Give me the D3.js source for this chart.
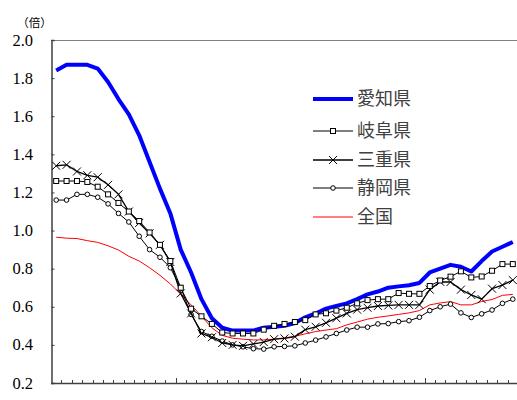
<!DOCTYPE html>
<html>
<head>
<meta charset="utf-8">
<script src="https://cdn.jsdelivr.net/npm/d3@7"></script>
<style>
  html, body { margin: 0; padding: 0; background: #fff; }
  svg { display: block; }
  .ytick { font-family: "Liberation Serif", "Times New Roman", serif; }
</style>
</head>
<body>
<svg id="chart" width="517" height="400"></svg>
<script>
// Monthly periods (45 months); long ticks mark the start of each new year
const months = [
  "1","2","3","4","5","6","7","8","9","10","11","12",
  "1","2","3","4","5","6","7","8","9","10","11","12",
  "1","2","3","4","5","6","7","8","9","10","11","12",
  "1","2","3","4","5","6","7","8","9"
];

const yTicks = [0.2, 0.4, 0.6, 0.8, 1.0, 1.2, 1.4, 1.6, 1.8, 2.0];

// 有効求人倍率（倍）
const aichi = [
  1.84, 1.87, 1.87, 1.87, 1.85, 1.78, 1.69, 1.61, 1.50, 1.36, 1.22, 1.09,
  0.90, 0.78, 0.64, 0.54, 0.49, 0.475, 0.475, 0.475, 0.49, 0.495, 0.50, 0.515,
  0.545, 0.565, 0.59, 0.605, 0.618, 0.64, 0.665, 0.68, 0.70, 0.707, 0.713, 0.725,
  0.78, 0.80, 0.82, 0.81, 0.785, 0.84, 0.89, 0.915, 0.94
];
const gifu = [
  1.26, 1.26, 1.26, 1.255, 1.23, 1.19, 1.145, 1.10, 1.05, 0.99, 0.925, 0.84,
  0.70, 0.59, 0.55, 0.51, 0.465, 0.46, 0.46, 0.46, 0.48, 0.50, 0.51, 0.52,
  0.53, 0.56, 0.566, 0.58, 0.595, 0.618, 0.635, 0.64, 0.64, 0.672, 0.668, 0.668,
  0.709, 0.738, 0.758, 0.786, 0.754, 0.759, 0.789, 0.824, 0.824
];
const mie = [
  1.34, 1.345, 1.31, 1.29, 1.28, 1.24, 1.19, 1.10, 1.04, 0.985, 0.925, 0.835,
  0.67, 0.565, 0.46, 0.44, 0.41, 0.40, 0.395, 0.405, 0.415, 0.43, 0.434, 0.443,
  0.48, 0.495, 0.516, 0.54, 0.565, 0.585, 0.595, 0.604, 0.607, 0.61, 0.61, 0.61,
  0.69, 0.731, 0.73, 0.69, 0.662, 0.64, 0.695, 0.714, 0.74
];
const shizuoka = [
  1.16, 1.16, 1.19, 1.19, 1.175, 1.14, 1.09, 1.045, 0.97, 0.90, 0.86, 0.805,
  0.70, 0.56, 0.47, 0.445, 0.42, 0.40, 0.39, 0.38, 0.378, 0.39, 0.392, 0.395,
  0.41, 0.425, 0.442, 0.46, 0.478, 0.493, 0.493, 0.51, 0.512, 0.522, 0.527, 0.545,
  0.58, 0.60, 0.614, 0.568, 0.544, 0.563, 0.583, 0.618, 0.64
];
const zenkoku = [
  0.965, 0.96, 0.958, 0.947, 0.938, 0.92, 0.898, 0.865, 0.84, 0.805, 0.765, 0.72,
  0.665, 0.61, 0.55, 0.49, 0.45, 0.435, 0.43, 0.426, 0.426, 0.43, 0.437, 0.445,
  0.458, 0.47, 0.478, 0.485, 0.505, 0.52, 0.535, 0.545, 0.552, 0.56, 0.568, 0.58,
  0.61, 0.62, 0.627, 0.61, 0.61, 0.628, 0.638, 0.66, 0.665
];

const series = [
  { name: "愛知県", values: aichi,    color: "#0000ff", width: 4,   marker: null },
  { name: "全国",   values: zenkoku,  color: "#ff0000", width: 1,   marker: null },
  { name: "静岡県", values: shizuoka, color: "#000000", width: 1,   marker: "circle" },
  { name: "三重県", values: mie,      color: "#000000", width: 1.3, marker: "cross" },
  { name: "岐阜県", values: gifu,     color: "#000000", width: 1,   marker: "square" }
];
const legendOrder = ["愛知県", "岐阜県", "三重県", "静岡県", "全国"];

const svg = d3.select("#chart");
const plotLeft = 51, plotRight = 518, plotTop = 40, plotBottom = 383;

const x = d3.scaleBand()
  .domain(months.map((m, i) => i))
  .range([plotLeft, plotRight])
  .paddingInner(0).paddingOuter(0);
const xc = i => x(i) + x.bandwidth() / 2;

const y = d3.scaleLinear().domain([0.2, 2.0]).range([plotBottom, plotTop]);

const axisColor = "#404040";

// frame top line
svg.append("line")
  .attr("x1", plotLeft).attr("x2", 517)
  .attr("y1", plotTop + 0.5).attr("y2", plotTop + 0.5)
  .attr("stroke", "#808080").attr("stroke-width", 1);

// left axis with inward ticks
const yAxis = d3.axisRight(y).tickValues(yTicks).tickSize(3).tickFormat("");
const gy = svg.append("g").attr("transform", `translate(${plotLeft + 0.5},0)`).call(yAxis);
gy.select(".domain").attr("stroke", axisColor).attr("stroke-width", 1.5);
gy.selectAll(".tick line").attr("stroke", axisColor);

svg.append("g").selectAll("text")
  .data(yTicks).join("text")
  .attr("class", "ytick")
  .attr("x", 33).attr("y", d => y(d)).attr("dy", "0.34em")
  .attr("text-anchor", "end")
  .attr("font-size", 16.5).attr("fill", "#000")
  .text(d => d.toFixed(1));

// unit label
svg.append("text")
  .attr("x", 34.5).attr("y", 27)
  .attr("text-anchor", "middle")
  .attr("font-family", "'Noto Sans CJK JP', sans-serif")
  .attr("font-size", 11.5).attr("fill", "#000")
  .text("（倍）");

// bottom axis: category boundaries, longer tick every 12 months
const boundaries = d3.range(1, months.length + 1);
const gx = svg.append("g");
gx.append("line")
  .attr("x1", plotLeft).attr("x2", 517)
  .attr("y1", plotBottom + 0.5).attr("y2", plotBottom + 0.5)
  .attr("stroke", axisColor).attr("stroke-width", 1.5);
gx.selectAll("line.tk")
  .data(boundaries).join("line").attr("class", "tk")
  .attr("x1", i => Math.round(plotLeft + i * x.step()) + 0.5)
  .attr("x2", i => Math.round(plotLeft + i * x.step()) + 0.5)
  .attr("y1", plotBottom)
  .attr("y2", i => plotBottom - (i % 12 === 0 ? 5 : 3))
  .attr("stroke", axisColor).attr("stroke-width", 1);

// plot lines
const line = d3.line().x((d, i) => xc(i)).y(d => y(d));
const plot = svg.append("g");

function drawMarker(g, type, cx, cy) {
  if (type === "square") {
    g.append("rect").attr("x", cx - 2.5).attr("y", cy - 2.5)
      .attr("width", 5).attr("height", 5)
      .attr("fill", "#fff").attr("stroke", "#000").attr("stroke-width", 1);
  } else if (type === "circle") {
    g.append("circle").attr("cx", cx).attr("cy", cy).attr("r", 2.3)
      .attr("fill", "#fff").attr("stroke", "#000").attr("stroke-width", 1);
  } else if (type === "cross") {
    const s = 4;
    g.append("path")
      .attr("d", `M${cx - s},${cy - s}L${cx + s},${cy + s}M${cx - s},${cy + s}L${cx + s},${cy - s}`)
      .attr("stroke", "#000").attr("stroke-width", 1).attr("fill", "none");
  }
}

series.forEach(s => {
  plot.append("path")
    .datum(s.values)
    .attr("d", line)
    .attr("fill", "none")
    .attr("stroke", s.color)
    .attr("stroke-width", s.width)
    .attr("stroke-linejoin", "round");
  if (s.marker) {
    const mg = plot.append("g");
    s.values.forEach((v, i) => drawMarker(mg, s.marker, xc(i), y(v)));
  }
});

// legend
const lg = svg.append("g");
const rowY = [99, 131, 160, 188, 217];
legendOrder.forEach((name, k) => {
  const s = series.find(d => d.name === name);
  const yy = rowY[k];
  lg.append("line")
    .attr("x1", 313).attr("x2", 353).attr("y1", yy).attr("y2", yy)
    .attr("stroke", s.color).attr("stroke-width", s.width);
  if (s.marker) drawMarker(lg, s.marker, 333, yy);
  lg.append("text")
    .attr("x", 357).attr("y", yy).attr("dy", "0.36em")
    .attr("font-family", "'Noto Sans CJK JP', sans-serif")
    .attr("font-size", 18).attr("fill", "#404040")
    .text(name);
});
</script>
</body>
</html>
